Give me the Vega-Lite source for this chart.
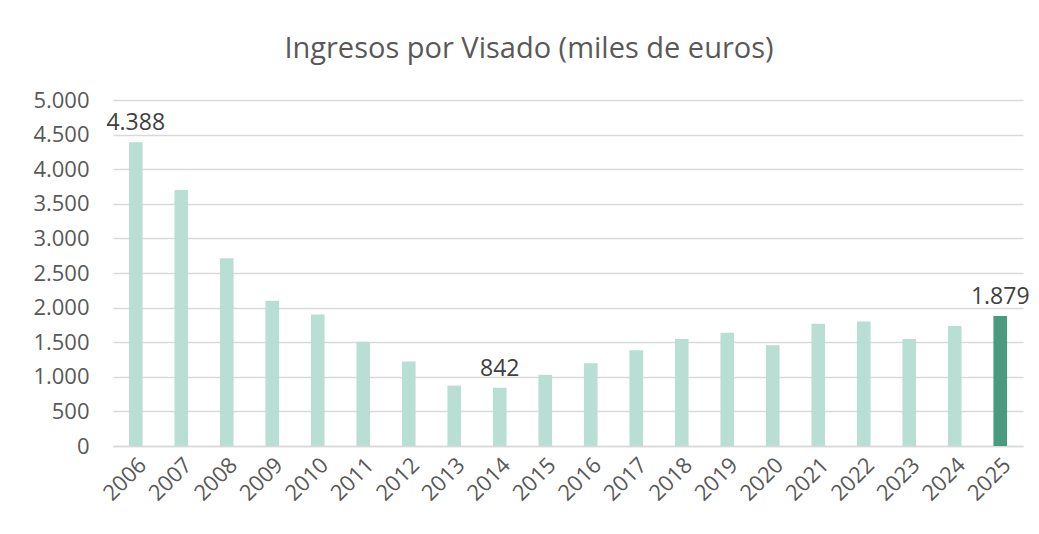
{
  "$schema": "https://vega.github.io/schema/vega-lite/v6.json",
  "width": 910,
  "height": 346,
  "autosize": {"type": "none"},
  "padding": {"left": 113, "top": 100, "right": 16, "bottom": 88},
  "background": "white",
  "config": {
    "locale": {"number": {"decimal": ",", "thousands": ".", "grouping": [3], "currency": ["", " €"]}},
    "view": {"stroke": null},
    "font": "Open Sans"
  },
  "title": {
    "text": "Ingresos por Visado (miles de euros)",
    "fontSize": 29,
    "fontWeight": "normal",
    "color": "#595959",
    "font": "Open Sans",
    "anchor": "middle",
    "dx": -39,
    "offset": 25
  },
  "data": {
    "values": [
      {"year": "2006", "value": 4388},
      {"year": "2007", "value": 3701},
      {"year": "2008", "value": 2712},
      {"year": "2009", "value": 2100},
      {"year": "2010", "value": 1900},
      {"year": "2011", "value": 1507},
      {"year": "2012", "value": 1222},
      {"year": "2013", "value": 873},
      {"year": "2014", "value": 842},
      {"year": "2015", "value": 1030},
      {"year": "2016", "value": 1195},
      {"year": "2017", "value": 1385},
      {"year": "2018", "value": 1545},
      {"year": "2019", "value": 1635},
      {"year": "2020", "value": 1455},
      {"year": "2021", "value": 1767},
      {"year": "2022", "value": 1800},
      {"year": "2023", "value": 1545},
      {"year": "2024", "value": 1733},
      {"year": "2025", "value": 1879}
    ]
  },
  "encoding": {
    "x": {
      "field": "year",
      "type": "ordinal",
      "scale": {"paddingInner": 0.7, "paddingOuter": 0.35},
      "axis": {
        "title": null,
        "labelAngle": -45,
        "labelFontSize": 22,
        "labelColor": "#595959",
        "labelFont": "Open Sans",
        "labelPadding": 8,
        "ticks": false,
        "domainColor": "#d9d9d9",
        "domainWidth": 1.5
      }
    },
    "y": {
      "field": "value",
      "type": "quantitative",
      "scale": {"domain": [0, 5000]},
      "axis": {
        "title": null,
        "values": [0, 500, 1000, 1500, 2000, 2500, 3000, 3500, 4000, 4500, 5000],
        "format": ",d",
        "labelFontSize": 22,
        "labelColor": "#595959",
        "labelFont": "Open Sans",
        "labelPadding": 24,
        "ticks": false,
        "domain": false,
        "gridColor": "#d9d9d9",
        "gridWidth": 1.5
      }
    }
  },
  "layer": [
    {
      "mark": {"type": "bar"},
      "encoding": {
        "color": {
          "condition": {"test": "datum.year === '2025'", "value": "#4a9a80"},
          "value": "#b9ded3"
        }
      }
    },
    {
      "transform": [{"filter": "datum.year === '2006' || datum.year === '2014' || datum.year === '2025'"}],
      "mark": {"type": "text", "baseline": "bottom", "dy": -7, "fontSize": 23, "color": "#404040", "font": "Open Sans"},
      "encoding": {
        "text": {"field": "value", "type": "quantitative", "format": ",d"}
      }
    }
  ]
}
